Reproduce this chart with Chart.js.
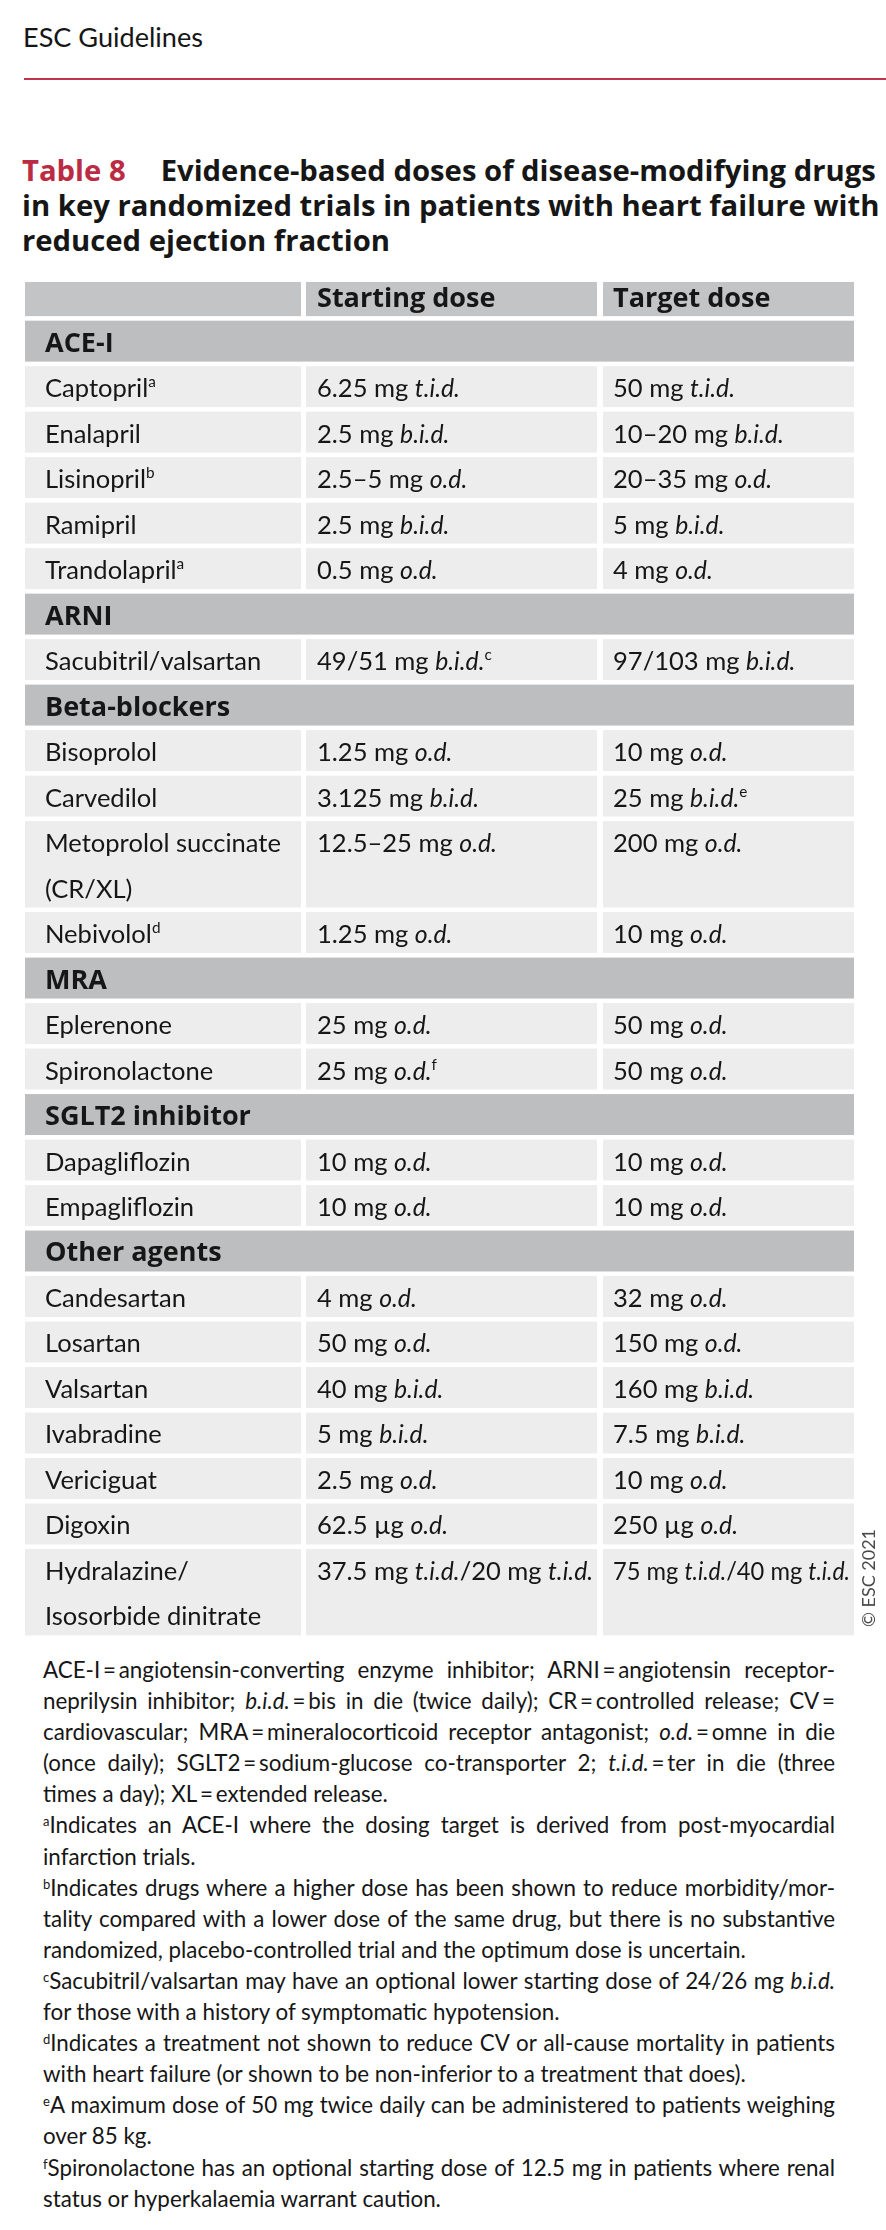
<!DOCTYPE html>
<html>
<head>
<meta charset="utf-8">
<script src="https://cdn.jsdelivr.net/npm/chart.js@4"></script>
<style>
  body { margin: 0; background: #fff; }
  #page { position: relative; width: 886px; height: 2230px; font-family: Lato, sans-serif; color: #161616; overflow: hidden; }
  .runhead { position: absolute; left: 23px; top: 20px; font-size: 24px; white-space: nowrap; }
  .rule { position: absolute; left: 24px; right: 0; top: 78px; height: 2px; background: #c1334a; }
  .title { position: absolute; left: 22px; top: 153px; width: 870px; font-family: "Open Sans", sans-serif; font-size: 28px; line-height: 35px; font-weight: bold; white-space: nowrap; }
  .title .num { color: #bb2b43; margin-right: 35px; }
  #tableBox { position: absolute; left: 0; top: 270px; width: 886px; height: 1380px; }
  .copy { position: absolute; left: 813px; top: 1568px; width: 110px; height: 20px; line-height: 20px; font-size: 18px; text-align: center; color: #4a4a4a; transform: rotate(-90deg); white-space: nowrap; }
  .notes { position: absolute; left: 43px; top: 1654px; width: 792px; font-size: 20px; line-height: 31.1px; }
  .notes div { white-space: nowrap; }
  .notes .j { text-align: justify; text-align-last: justify; white-space: normal; }
  .notes sup { font-size: 13px; line-height: 0; vertical-align: 7px; }
</style>
</head>
<body>
<div id="page">
  <div class="runhead" id="runhead">ESC Guidelines</div>
  <div class="rule"></div>
  <div class="title" id="title"><span class="num">Table 8</span><span id="titleRest">Evidence-based doses of disease-modifying drugs</span><br>in key randomized trials in patients with heart failure with<br>reduced ejection fraction</div>

  <div id="tableBox"><canvas id="doseTable" width="886" height="1380"></canvas></div>
  <div class="copy">© ESC 2021</div>

  <div class="notes" id="notes">
    <div class="j">ACE-I&thinsp;=&thinsp;angiotensin-converting enzyme inhibitor; ARNI&thinsp;=&thinsp;angiotensin receptor-</div>
    <div class="j">neprilysin inhibitor; <i>b.i.d.</i>&thinsp;=&thinsp;bis in die (twice daily); CR&thinsp;=&thinsp;controlled release; CV&thinsp;=</div>
    <div class="j">cardiovascular; MRA&thinsp;=&thinsp;mineralocorticoid receptor antagonist; <i>o.d.</i>&thinsp;=&thinsp;omne in die</div>
    <div class="j">(once daily); SGLT2&thinsp;=&thinsp;sodium-glucose co-transporter 2; <i>t.i.d.</i>&thinsp;=&thinsp;ter in die (three</div>
    <div>times a day); XL&thinsp;=&thinsp;extended release.</div>
    <div class="j"><sup>a</sup>Indicates an ACE-I where the dosing target is derived from post-myocardial</div>
    <div>infarction trials.</div>
    <div class="j"><sup>b</sup>Indicates drugs where a higher dose has been shown to reduce morbidity/mor-</div>
    <div class="j">tality compared with a lower dose of the same drug, but there is no substantive</div>
    <div>randomized, placebo-controlled trial and the optimum dose is uncertain.</div>
    <div class="j"><sup>c</sup>Sacubitril/valsartan may have an optional lower starting dose of 24/26 mg <i>b.i.d.</i></div>
    <div>for those with a history of symptomatic hypotension.</div>
    <div class="j"><sup>d</sup>Indicates a treatment not shown to reduce CV or all-cause mortality in patients</div>
    <div>with heart failure (or shown to be non-inferior to a treatment that does).</div>
    <div class="j"><sup>e</sup>A maximum dose of 50 mg twice daily can be administered to patients weighing</div>
    <div>over 85 kg.</div>
    <div class="j"><sup>f</sup>Spironolactone has an optional starting dose of 12.5 mg in patients where renal</div>
    <div>status or hyperkalaemia warrant caution.</div>
  </div>
</div>

<script>
// table content: *...* = italic, ^x = superscript, \n = second line in the cell
const columnHeaders = ["", "Starting dose", "Target dose"];

const groups = ["ACE-I", "ARNI", "Beta-blockers", "MRA", "SGLT2 inhibitor", "Other agents"];

const drugNames = [
  "Captopril^a", "Enalapril", "Lisinopril^b", "Ramipril", "Trandolapril^a",
  "Sacubitril/valsartan",
  "Bisoprolol", "Carvedilol", "Metoprolol succinate\n(CR/XL)", "Nebivolol^d",
  "Eplerenone", "Spironolactone",
  "Dapagliflozin", "Empagliflozin",
  "Candesartan", "Losartan", "Valsartan", "Ivabradine", "Vericiguat", "Digoxin",
  "Hydralazine/\nIsosorbide dinitrate",
];

// index into groups for every drug
const drugGroup = [0, 0, 0, 0, 0, 1, 2, 2, 2, 2, 3, 3, 4, 4, 5, 5, 5, 5, 5, 5, 5];

const startDoses = [
  "6.25 mg *t.i.d.*", "2.5 mg *b.i.d.*", "2.5\u20135 mg *o.d.*", "2.5 mg *b.i.d.*", "0.5 mg *o.d.*",
  "49/51 mg *b.i.d.*^c",
  "1.25 mg *o.d.*", "3.125 mg *b.i.d.*", "12.5\u201325 mg *o.d.*", "1.25 mg *o.d.*",
  "25 mg *o.d.*", "25 mg *o.d.*^f",
  "10 mg *o.d.*", "10 mg *o.d.*",
  "4 mg *o.d.*", "50 mg *o.d.*", "40 mg *b.i.d.*", "5 mg *b.i.d.*", "2.5 mg *o.d.*", "62.5 \u00b5g *o.d.*",
  "37.5 mg *t.i.d.*/20 mg *t.i.d.*",
];

const targetDoses = [
  "50 mg *t.i.d.*", "10\u201320 mg *b.i.d.*", "20\u201335 mg *o.d.*", "5 mg *b.i.d.*", "4 mg *o.d.*",
  "97/103 mg *b.i.d.*",
  "10 mg *o.d.*", "25 mg *b.i.d.*^e", "200 mg *o.d.*", "10 mg *o.d.*",
  "50 mg *o.d.*", "50 mg *o.d.*",
  "10 mg *o.d.*", "10 mg *o.d.*",
  "32 mg *o.d.*", "150 mg *o.d.*", "160 mg *b.i.d.*", "7.5 mg *b.i.d.*", "10 mg *o.d.*", "250 \u00b5g *o.d.*",
  "75 mg *t.i.d.*/40 mg *t.i.d.*",
];

// layout (x in table units, y in row units)
const colEdges = [[0, 276], [281, 572], [578, 829]];
const textInset = [20, 11, 10];
const rowGap = 0.1;
const headerTop = -0.85;
const baselineOffset = 0.68;
const headerBaseline = -0.3;
const gray = "#bdbec0";
const headGray = "#c3c4c6";
const light = "#ededed";
const ink = "#161616";
const bodyFont = "Lato, sans-serif";
const boldFont = "'Open Sans', sans-serif";

// pick font sizes so that sample strings get the widths they have in the print
const measurer = document.createElement("canvas").getContext("2d");
function fitSize(style, family, sample, target) {
  measurer.font = style + " 20px " + family;
  return (20 * target) / measurer.measureText(sample).width;
}
const cellSize = fitSize("", bodyFont, "Metoprolol succinate", 236);
const italicSize = cellSize * 0.97;
const boldSize = fitSize("bold", boldFont, "SGLT2 inhibitor", 206);
const supSize = cellSize * 0.6;

document.getElementById("runhead").style.fontSize = fitSize("", bodyFont, "ESC Guidelines", 180) + "px";
const titleSize = fitSize("bold", "'Open Sans'", "Table 8Evidence-based doses of disease-modifying drugs", 819);
document.getElementById("title").style.fontSize = titleSize + "px";
document.getElementById("notes").style.fontSize =
  fitSize("", bodyFont, "randomized, placebo-controlled trial and the optimum dose is uncertain.", 703) + "px";

// build the row list: group bands and drug rows with their height in row units
const rows = [];
let pos = 0;
groups.forEach((g, gi) => {
  rows.push({ kind: "group", label: g, start: pos, units: 1 });
  pos += 1;
  drugGroup.forEach((dg, i) => {
    if (dg !== gi) return;
    const cells = [drugNames[i], startDoses[i], targetDoses[i]];
    const units = Math.max(...cells.map((c) => c.split("\n").length));
    rows.push({ kind: "drug", cells: cells, start: pos, units: units });
    pos += units;
  });
});
const totalUnits = pos;

function richParts(text, bold) {
  return text.split(/(\*[^*]+\*|\^[a-z])/).filter((p) => p !== "").map((p) => {
    if (p.startsWith("*")) return { t: p.slice(1, -1), font: "italic " + italicSize + "px " + bodyFont, dy: 0 };
    if (p.startsWith("^")) return { t: p.slice(1), font: supSize + "px " + bodyFont, dy: -cellSize * 0.38 };
    if (bold) return { t: p, font: "bold " + boldSize + "px " + boldFont, dy: 0 };
    return { t: p, font: cellSize + "px " + bodyFont, dy: 0 };
  });
}

// draws mixed roman/italic/superscript text; squeezes it if it is wider than maxW
function drawRich(ctx, text, x, y, bold, maxW) {
  const parts = richParts(text, bold);
  let width = 0;
  parts.forEach((p) => {
    ctx.font = p.font;
    width += ctx.measureText(p.t).width;
  });
  const k = maxW && width > maxW ? maxW / width : 1;
  ctx.save();
  ctx.translate(x, y);
  ctx.scale(k, 1);
  let cx = 0;
  parts.forEach((p) => {
    ctx.font = p.font;
    ctx.fillText(p.t, cx, p.dy);
    cx += ctx.measureText(p.t).width;
  });
  ctx.restore();
}

const tablePlugin = {
  id: "doseTable",
  afterDraw(chart) {
    const { ctx } = chart;
    const x = chart.scales.x;
    const y = chart.scales.y;
    ctx.save();
    ctx.textBaseline = "alphabetic";

    const cellRect = (c, v0, v1, color, span) => {
      const left = x.getPixelForValue(colEdges[c][0]);
      const right = x.getPixelForValue(colEdges[span ? 2 : c][1]);
      const top = y.getPixelForValue(v0);
      const bottom = y.getPixelForValue(v1);
      ctx.fillStyle = color;
      ctx.fillRect(left, top, right - left, bottom - top);
    };
    const textX = (c) => x.getPixelForValue(colEdges[c][0]) + textInset[c];
    const room = (c) => x.getPixelForValue(colEdges[c][1]) - textX(c) - 4;

    // header row
    columnHeaders.forEach((h, c) => {
      cellRect(c, headerTop, -rowGap, headGray);
      ctx.fillStyle = ink;
      drawRich(ctx, h, textX(c), y.getPixelForValue(headerBaseline), true, room(c));
    });

    rows.forEach((r) => {
      const v1 = r.start + r.units - rowGap;
      if (r.kind === "group") {
        cellRect(0, r.start, v1, gray, true);
        ctx.fillStyle = ink;
        drawRich(ctx, r.label, textX(0), y.getPixelForValue(r.start + baselineOffset), true);
        return;
      }
      r.cells.forEach((txt, c) => {
        cellRect(c, r.start, v1, light);
        ctx.fillStyle = ink;
        txt.split("\n").forEach((line, k) => {
          drawRich(ctx, line, textX(c), y.getPixelForValue(r.start + k + baselineOffset), false, room(c));
        });
      });
    });
    ctx.restore();
  },
};

const ctx = document.getElementById("doseTable").getContext("2d");
const doseChart = new Chart(ctx, {
  type: "scatter",
  data: { datasets: [] },
  options: {
    responsive: false,
    animation: false,
    events: [],
    layout: { padding: { left: 25, right: 32, top: 12, bottom: 10 } },
    plugins: { legend: { display: false }, tooltip: { enabled: false } },
    scales: {
      x: { type: "linear", min: 0, max: colEdges[2][1], display: false },
      y: { type: "linear", min: headerTop, max: totalUnits, reverse: true, display: false },
    },
  },
  plugins: [tablePlugin],
});
</script>
</body>
</html>
